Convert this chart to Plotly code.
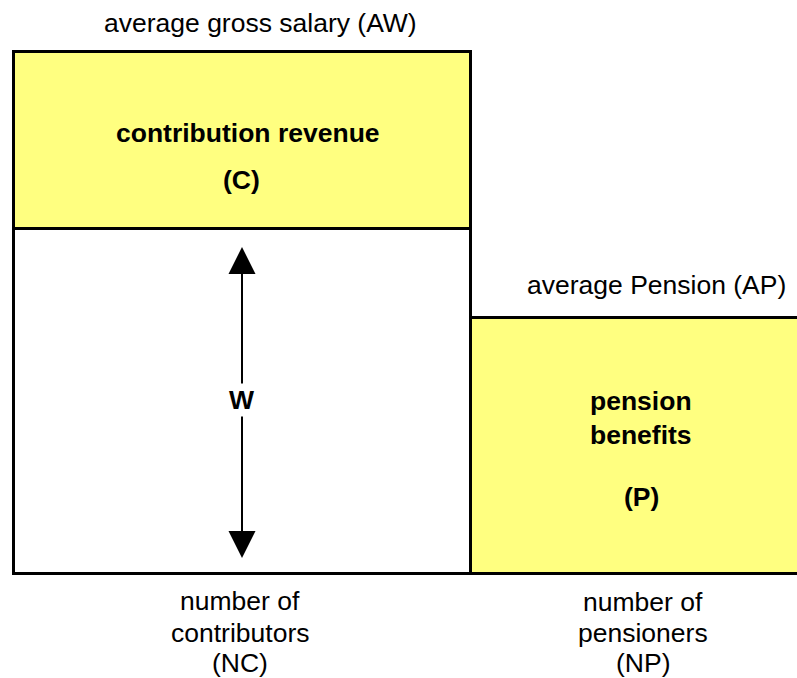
import plotly.graph_objects as go

# ---- data (arbitrary units) ----
groups = ["contributors (NC)", "pensioners (NP)"]
group_counts = [100, 72]            # NC, NP  (bar widths)
avg_wage = 100                      # AW
avg_pension = 49                    # AP
contribution_rate = 0.34            # share of AW paid as contributions (C)

NC, NP = group_counts
W_height = avg_wage * (1 - contribution_rate)
C_height = avg_wage * contribution_rate

YELLOW = "#FFFF80"
FONT = "Liberation Sans, Arial, sans-serif"
FONT_SIZE = 26.5
FIG_W, FIG_H = 797, 678

# pixel mapping used only for the axis ranges and text placement
PX_X, PX_Y = 4.57, 5.22
X0_PX, Y0_PX = 13.5, 573.5

fig = go.Figure()

# pension benefits (P)
fig.add_trace(go.Bar(x=[NC + NP / 2], y=[avg_pension], width=[NP], base=[0],
                     marker=dict(color=YELLOW, line=dict(color="black", width=3)),
                     hoverinfo="skip", showlegend=False))
# net wage part (W)
fig.add_trace(go.Bar(x=[NC / 2], y=[W_height], width=[NC], base=[0],
                     marker=dict(color="white", line=dict(color="black", width=3)),
                     hoverinfo="skip", showlegend=False))
# contribution revenue (C)
fig.add_trace(go.Bar(x=[NC / 2], y=[C_height], width=[NC], base=[W_height],
                     marker=dict(color=YELLOW, line=dict(color="black", width=3)),
                     hoverinfo="skip", showlegend=False))


def px(xp, yp):
    return xp / FIG_W, 1 - yp / FIG_H


annotations = []


def label(text, xp, yp, bold=False, bg=None):
    x, y = px(xp, yp)
    d = dict(text=f"<b>{text}</b>" if bold else text, x=x, y=y, xref="paper", yref="paper",
             xanchor="center", yanchor="middle", showarrow=False,
             font=dict(family=FONT, size=FONT_SIZE, color="black"))
    if bg:
        d["bgcolor"] = bg
    annotations.append(d)


label("average gross salary (AW)", 260, 23)
label("contribution revenue", 248, 133, bold=True)
label("(C)", 241, 180, bold=True)
label("average Pension (AP)", 656, 285)
label("pension", 641, 401, bold=True)
label("benefits", 641, 435, bold=True)
label("(P)", 641, 497, bold=True)
label("number of", 240, 601)
label("contributors", 240, 633)
label("(NC)", 240, 663)
label("number of", 643, 602)
label("pensioners", 643, 633)
label("(NP)", 643, 663)

# double-headed arrow across W
top_tip = (Y0_PX - 247) / PX_Y
bot_tip = (Y0_PX - 558) / PX_Y
mid = (Y0_PX - 400) / PX_Y
for tip in (top_tip, bot_tip):
    annotations.append(dict(x=NC / 2, y=tip, ax=NC / 2, ay=mid, xref="x", yref="y",
                            axref="x", ayref="y", text="", showarrow=True,
                            arrowhead=2, arrowsize=2.7, arrowwidth=2, arrowcolor="black"))
label("W", 241, 400, bold=True, bg="white")

fig.update_layout(
    width=FIG_W, height=FIG_H,
    margin=dict(l=0, r=0, t=0, b=0),
    paper_bgcolor="white", plot_bgcolor="white",
    barmode="overlay", bargap=0,
    xaxis=dict(visible=False, range=[-X0_PX / PX_X, (FIG_W - X0_PX) / PX_X], fixedrange=True),
    yaxis=dict(visible=False, range=[-(FIG_H - Y0_PX) / PX_Y, Y0_PX / PX_Y], fixedrange=True),
    annotations=annotations,
    showlegend=False,
)

fig.write_html("out.html", config={"displayModeBar": False},
               post_script="document.body.style.margin='0';document.body.style.overflow='hidden';")
